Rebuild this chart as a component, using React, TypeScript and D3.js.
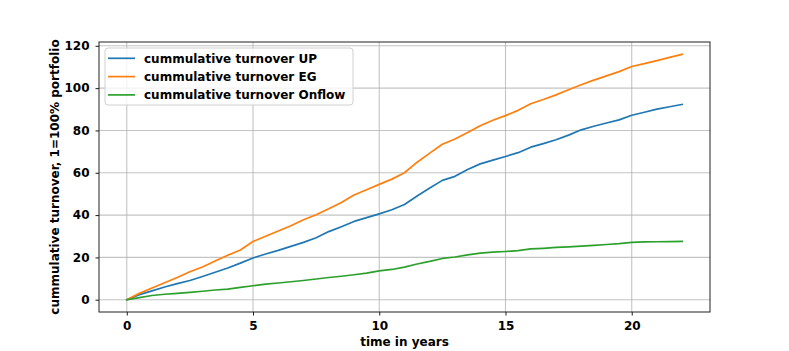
import React, { useEffect, useRef } from "react";
import * as d3 from "d3";

// time axis, in years
const years = [
  0, 0.5, 1, 1.5, 2, 2.5, 3, 3.5, 4, 4.5, 5, 5.5, 6, 6.5, 7, 7.5, 8, 8.5, 9, 9.5,
  10, 10.5, 11, 11.5, 12, 12.5, 13, 13.5, 14, 14.5, 15, 15.5, 16, 16.5, 17, 17.5,
  18, 18.5, 19, 19.5, 20, 20.5, 21, 21.5, 22,
];

const turnoverUP = [
  0, 2.4, 4.2, 6, 7.6, 9.1, 11, 13, 15, 17.3, 19.7, 21.6, 23.3, 25.2, 27.1, 29.3,
  32.2, 34.5, 37, 38.8, 40.6, 42.5, 45, 49, 52.8, 56.4, 58.3, 61.5, 64.2, 66, 67.7,
  69.5, 72.1, 73.8, 75.6, 77.8, 80.3, 82, 83.5, 85, 87.2, 88.6, 90.1, 91.2, 92.3,
];

const turnoverEG = [
  0, 3, 5.5, 8, 10.5, 13.2, 15.5, 18.3, 21, 23.5, 27.5, 30, 32.5, 35, 37.8, 40.2,
  43, 46, 49.5, 52, 54.5, 57, 60, 65, 69.3, 73.5, 76, 79, 82.2, 84.8, 87, 89.5,
  92.6, 94.6, 96.8, 99.2, 101.6, 103.8, 105.8, 107.8, 110.2, 111.6, 113, 114.5, 116,
];

const turnoverOnflow = [
  0, 1, 2, 2.6, 3, 3.5, 4, 4.6, 5, 5.8, 6.6, 7.4, 7.9, 8.5, 9.1, 9.8, 10.5, 11.1,
  11.8, 12.6, 13.6, 14.3, 15.4, 16.9, 18.1, 19.5, 20.2, 21.2, 22, 22.5, 22.8, 23.2,
  24, 24.3, 24.7, 25, 25.3, 25.7, 26.1, 26.5, 27.1, 27.3, 27.4, 27.5, 27.6,
];

const seriesNames = [
  "cummulative turnover UP",
  "cummulative turnover EG",
  "cummulative turnover Onflow",
];
const seriesColors = ["#1f77b4", "#ff7f0e", "#2ca02c"];
const xTicks = [0, 5, 10, 15, 20];
const yTicks = [0, 20, 40, 60, 80, 100, 120];

const W = 789;
const H = 351;
const FONT = "'DejaVu Sans', sans-serif";
const FS = "12px";

export default function App() {
  const ref = useRef<SVGSVGElement>(null);

  useEffect(() => {
    const svg = d3.select(ref.current);
    svg.selectAll("*").remove();

    const left = 99, right = 710, top = 42, bottom = 312;

    const x = d3.scaleLinear().domain([-1.1, 23.1]).range([left, right]);
    const y = d3.scaleLinear().domain([-5.8, 121.8]).range([bottom, top]);

    // grid
    const grid = svg.append("g");
    xTicks.forEach((t) => {
      grid.append("line")
        .attr("x1", x(t)).attr("x2", x(t))
        .attr("y1", top).attr("y2", bottom)
        .attr("stroke", "#b0b0b0").attr("stroke-opacity", 0.75).attr("stroke-width", 1.1);
    });
    yTicks.forEach((t) => {
      grid.append("line")
        .attr("x1", left).attr("x2", right)
        .attr("y1", y(t)).attr("y2", y(t))
        .attr("stroke", "#b0b0b0").attr("stroke-opacity", 0.75).attr("stroke-width", 1.1);
    });

    // lines
    const allSeries = [turnoverUP, turnoverEG, turnoverOnflow];
    const line = d3.line<number>()
      .x((_, i) => x(years[i]))
      .y((d) => y(d));
    allSeries.forEach((s, i) => {
      svg.append("path")
        .datum(s)
        .attr("d", line)
        .attr("fill", "none")
        .attr("stroke", seriesColors[i])
        .attr("stroke-width", 1.7)
        .attr("stroke-linejoin", "round")
        .attr("stroke-linecap", "square");
    });

    // axes
    const xAxis = svg.append("g")
      .attr("transform", `translate(0,${bottom})`)
      .call(d3.axisBottom(x).tickValues(xTicks).tickSize(3.5).tickPadding(6).tickFormat(d3.format("d")));
    const yAxis = svg.append("g")
      .attr("transform", `translate(${left},0)`)
      .call(d3.axisLeft(y).tickValues(yTicks).tickSize(3.5).tickPadding(6).tickFormat(d3.format("d")));
    [xAxis, yAxis].forEach((a) => {
      a.select(".domain").remove();
      a.selectAll("line").attr("stroke", "#000").attr("stroke-width", 0.9);
      a.selectAll("text")
        .attr("fill", "#000")
        .style("font-family", FONT)
        .style("font-weight", "bold")
        .style("font-size", FS);
    });

    // frame
    svg.append("rect")
      .attr("x", left).attr("y", top)
      .attr("width", right - left).attr("height", bottom - top)
      .attr("fill", "none").attr("stroke", "#222").attr("stroke-width", 1);

    // axis labels
    svg.append("text")
      .attr("x", (left + right) / 2).attr("y", 346)
      .attr("text-anchor", "middle")
      .style("font-family", FONT).style("font-weight", "bold").style("font-size", FS)
      .text("time in years");
    svg.append("text")
      .attr("transform", `translate(59,${(top + bottom) / 2}) rotate(-90)`)
      .attr("text-anchor", "middle")
      .style("font-family", FONT).style("font-weight", "bold").style("font-size", FS)
      .text("cummulative turnover, 1=100% portfolio");

    // legend
    const lg = svg.append("g");
    lg.append("rect")
      .attr("x", 105).attr("y", 48).attr("width", 248).attr("height", 57).attr("rx", 3)
      .attr("fill", "#fff").attr("fill-opacity", 0.8)
      .attr("stroke", "#d0d0d0").attr("stroke-width", 1);
    seriesNames.forEach((name, i) => {
      const yy = 58.3 + i * 18.3;
      lg.append("line")
        .attr("x1", 108).attr("x2", 135).attr("y1", yy).attr("y2", yy)
        .attr("stroke", seriesColors[i]).attr("stroke-width", 1.7);
      lg.append("text")
        .attr("x", 144).attr("y", yy + 4.3)
        .style("font-family", FONT).style("font-weight", "bold").style("font-size", FS)
        .text(name);
    });
  }, []);

  return (
    <svg
      ref={ref}
      width={W}
      height={H}
      style={{ position: "absolute", left: 0, top: 0, display: "block" }}
    />
  );
}
